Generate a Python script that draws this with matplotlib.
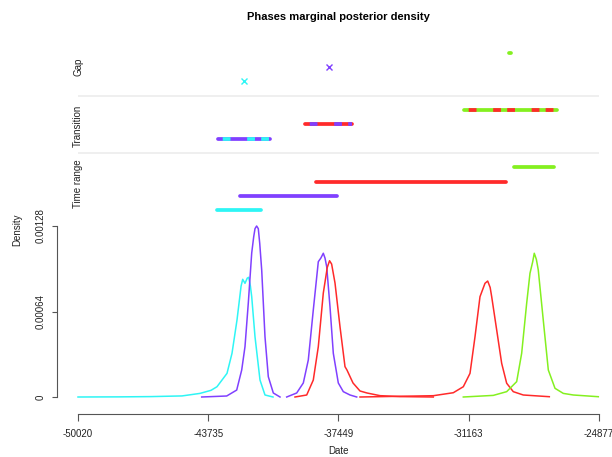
import matplotlib
matplotlib.use('Agg')
import matplotlib.pyplot as plt
import matplotlib.transforms as mtransforms

plt.rcParams['font.family'] = ['Liberation Sans', 'DejaVu Sans']
plt.rcParams['lines.scale_dashes'] = False

x_ticks = [-50020, -43735, -37449, -31163, -24877]
y_ticks = [0, 0.00064, 0.00128]
y_tick_labels = ['0', '0.00064', '0.00128']

phase_colors = ['#2ef5f5', '#8040ff', '#ff2a2a', '#84f020']
panel_names = ['Time range', 'Transition', 'Gap']

# time range of each phase
time_start = [-43312, -42202, -38534, -28979]
time_end = [-41188, -37521, -29365, -27049]

# transitions between consecutive phases
trans_start = [-43264, -39065, -31392]
trans_end = [-40754, -36797, -26904]

# gaps between consecutive phases (overlap -> cross)
gap_start = [-42009, -37907, -29200]
gap_end = [-42009, -37907, -29110]
gap_overlap = [True, True, False]

# marginal densities (begin / end of phases)
cyan_x = [-50020, -48000, -46500, -45000, -44133, -43600, -43312, -42829, -42588,
          -42347, -42150, -42072, -41961, -41850, -41782, -41700, -41637, -41478,
          -41237, -40996, -40609]
cyan_y = [0, 0.000001, 0.000003, 0.000008, 0.000027, 0.00005, 0.000077, 0.000177, 0.000327,
          0.000576, 0.00083, 0.000881, 0.000851, 0.00089, 0.000896, 0.00083, 0.000751, 0.000451,
          0.000127, 0.000015, 0]

purple1_x = [-44050, -42844, -42361, -42120, -41961, -41801, -41637, -41540, -41478, -41400,
             -41319, -41250, -41155, -40996, -40836, -40594, -40271]
purple1_y = [0, 0.0000075, 0.000052, 0.000202, 0.000377, 0.000704, 0.001078, 0.0012, 0.00126,
             0.00128, 0.00126, 0.00115, 0.000951, 0.000451, 0.000152, 0.00003, 0]

purple2_x = [-39948, -39466, -39147, -38906, -38665, -38423, -38300, -38182, -38100, -38018,
             -37859, -37699, -37458, -37217, -36893, -36570]
purple2_y = [0, 0.00003, 0.000105, 0.000277, 0.000651, 0.001013, 0.00104, 0.001076, 0.00104,
             0.000975, 0.000676, 0.000327, 0.000105, 0.00004, 0.000015, 0]

red1_x = [-39548, -38983, -38665, -38423, -38182, -37990, -37880, -37780, -37617, -37376,
          -37135, -37040, -36749, -36411, -36073, -35445, -34480, -32873]
red1_y = [0, 0.000015, 0.000127, 0.000377, 0.000778, 0.00097, 0.00102, 0.000995, 0.000853,
          0.000526, 0.000227, 0.000202, 0.000105, 0.000045, 0.00003, 0.00001, 0.000003, 0]

red2_x = [-36411, -32873, -31908, -31425, -31102, -30861, -30620, -30379, -30249,
          -30130, -30056, -29815, -29574, -29333, -29014, -28532, -27275]
red2_y = [0, 0.0000097, 0.000032, 0.000077, 0.000177, 0.000451, 0.000751, 0.000851, 0.000868,
          0.00082, 0.000751, 0.000502, 0.000252, 0.000103, 0.00004, 0.000015, 0.0000022]

green_x = [-31425, -29979, -29333, -28850, -28609, -28368, -28208, -28080, -28001, -27900,
           -27808, -27567, -27323, -27000, -26600, -26117, -24910]
green_y = [0, 0.000012, 0.00004, 0.000115, 0.000327, 0.000701, 0.000926, 0.00101, 0.001076,
           0.00103, 0.000951, 0.000576, 0.000202, 0.000065, 0.000027, 0.000015, 0.0000022]

curves = [(cyan_x, cyan_y, 0), (purple1_x, purple1_y, 1), (purple2_x, purple2_y, 1),
          (red1_x, red1_y, 2), (red2_x, red2_y, 2), (green_x, green_y, 3)]

fig = plt.figure(figsize=(6.12, 4.57), dpi=100)
left, width = 78 / 612, 521 / 612
ax = fig.add_axes([left, 60 / 457, width, 171 / 457])
top = fig.add_axes([left, 239.5 / 457, width, 172 / 457], sharex=ax)

# density panel
for xs, ys, c in curves:
    ax.plot(xs, ys, color=phase_colors[c], lw=1.1, clip_on=False)

ax.set_xlim(x_ticks[0], x_ticks[-1])
ax.set_ylim(0, 0.00128)
for s in ['top', 'right']:
    ax.spines[s].set_visible(False)
ax.spines['left'].set_position(('outward', 15))
ax.spines['bottom'].set_position(('outward', 12))
for s in ['left', 'bottom']:
    ax.spines[s].set_color('#555555')
    ax.spines[s].set_linewidth(0.8)
ax.set_xticks(x_ticks, [str(t) for t in x_ticks])
ax.set_yticks(y_ticks, y_tick_labels)
ax.tick_params(axis='x', length=5, width=0.8, color='#555555', labelsize=7, pad=6, labelcolor='#222222')
ax.tick_params(axis='y', length=3.6, width=0.8, color='#555555', labelsize=7, pad=5, labelcolor='#222222')
for lbl in ax.get_yticklabels():
    lbl.set_rotation(90)
    lbl.set_va('center')

# upper panels: rows stacked with one empty row between panels
n_time = len(time_start)
n_trans = len(trans_start)
time_rows = list(range(n_time))
trans_rows = [n_time + 1 + i for i in range(n_trans)]
gap_rows = [n_time + n_trans + 2 + i for i in range(len(gap_start))]
bar_lw = 2.7

for i in range(n_time):
    top.plot([time_start[i], time_end[i]], [time_rows[i]] * 2, color=phase_colors[i],
             lw=bar_lw, solid_capstyle='round')

dash = (24.3, (5.6, 12.0, 5.6, 4.5))
for i in range(n_trans):
    xs = [trans_start[i], trans_end[i]]
    ys = [trans_rows[i]] * 2
    top.plot(xs, ys, color=phase_colors[i + 1], lw=bar_lw, solid_capstyle='round')
    top.plot(xs, ys, color=phase_colors[i], lw=bar_lw, linestyle=dash, dash_capstyle='butt')

for i in range(len(gap_start)):
    if gap_overlap[i]:
        top.plot(gap_start[i], gap_rows[i], marker='x', ms=4.5, mew=1.0,
                 color=phase_colors[i], linestyle='none')
    else:
        top.plot([gap_start[i], gap_end[i]], [gap_rows[i]] * 2, color=phase_colors[i + 1],
                 lw=bar_lw, solid_capstyle='round')

top.set_ylim(-0.5, gap_rows[-1] + 0.5)
top.axhline(n_time, color='#ececec', lw=1.2)
top.axhline(n_time + n_trans + 1, color='#ececec', lw=1.2)
top.set_axis_off()

trans = mtransforms.blended_transform_factory(top.transAxes, top.transData)
label_rows = [1.85, 5.9, 10.0]
for name, r in zip(panel_names, label_rows):
    top.text(0, r, name, transform=trans, rotation=90, ha='center', va='center',
             fontsize=7, color='#222222')

fig.text(338.5 / 612, (457 - 16.5) / 457, 'Phases marginal posterior density',
         ha='center', va='center', fontsize=8, fontweight='bold')
fig.text(338.5 / 612, (457 - 451) / 457, 'Date', ha='center', va='center',
         fontsize=7, color='#222222')
fig.text(17 / 612, (457 - 230) / 457, 'Density', ha='center', va='center',
         rotation=90, fontsize=7, color='#222222')

fig.savefig('out.png', dpi=100)
